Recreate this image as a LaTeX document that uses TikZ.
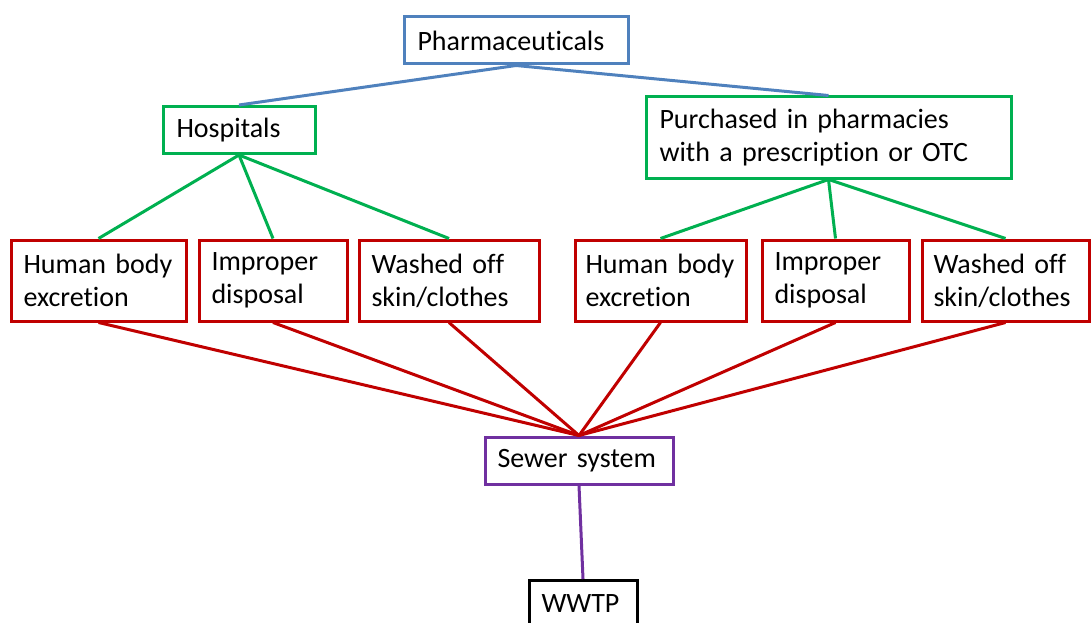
\documentclass[tikz,border=0pt]{standalone}
\usepackage{fontspec}
\setmainfont{Carlito}[Ligatures=CommonOff]
\usepackage{tikz}
\usetikzlibrary{positioning}
\definecolor{pBlue}{RGB}{79,129,189}
\definecolor{pGreen}{RGB}{0,176,80}
\definecolor{pRed}{RGB}{192,0,0}
\definecolor{pPurple}{RGB}{112,48,160}
\tikzset{
  box/.style={rectangle, draw, fill=white, line width=3pt, align=left,
              inner xsep=8pt, inner ysep=0pt, text width=#1,
              font=\fontsize{28}{33}\selectfont},
  one/.style={minimum height=47pt},
  two/.style={minimum height=81pt},
  src/.style={box=#1, draw=pBlue, one},
  way/.style={box=#1, draw=pGreen},
  rte/.style={box=#1, draw=pRed, two},
  sew/.style={box=#1, draw=pPurple, one},
  plant/.style={box=#1, draw=black, one},
  link/.style={line width=3pt},
}
\begin{document}
\begin{tikzpicture}[x=1pt, y=-1pt]
  \useasboundingbox (0,0) rectangle (1091,623);
  \clip (0,0) rectangle (1091,623);
  % top level
  \node[src=197pt, minimum width=224pt] (pharm) at (516,40.5) {Pharmaceuticals};
  \node[way=125pt, one, minimum width=152pt] (hosp) at (239,130) {Hospitals};
  \node[way=338pt, two, minimum width=365pt] (purch) at (828.5,137.5)
       {Purchased in pharmacies\\ with a prescription or OTC};
  % routes
  \node[rte=150pt, minimum width=175pt] (hbodyL) at (98.5,280.5) {Human body\\ excretion};
  \node[rte=123pt, minimum width=148pt] (dispL) at (273,280.5) {Improper\\ disposal};
  \node[rte=155pt, minimum width=180pt] (washL) at (449,280.5) {Washed off\\ skin/clothes};
  \node[rte=150pt, minimum width=171pt] (hbodyR) at (660.5,280.5) {Human body\\ excretion};
  \node[rte=122pt, minimum width=147pt] (dispR) at (835.5,280.5) {Improper\\ disposal};
  \node[rte=144pt, minimum width=167pt] (washR) at (1005.5,280.5) {Washed off\\ skin/clothes};
  % sewer and plant
  \node[sew=163pt, minimum width=188pt] (sewer) at (579,460.5) {Sewer system};
  \node[plant=83pt, minimum width=108pt] (wwtp) at (583,604) {WWTP};
  % connectors
  \draw[link, pBlue] (pharm.south) -- (hosp.north);
  \draw[link, pBlue] (pharm.south) -- (purch.north);
  \foreach \n in {hbodyL, dispL, washL}
    \draw[link, pGreen] (hosp.south) -- (\n.north);
  \foreach \n in {hbodyR, dispR, washR}
    \draw[link, pGreen] (purch.south) -- (\n.north);
  \foreach \n in {hbodyL, dispL, washL, hbodyR, dispR, washR}
    \draw[link, pRed] (\n.south) -- (sewer.north);
  \draw[link, pPurple] (sewer.south) -- (wwtp.north);
\end{tikzpicture}
\end{document}
